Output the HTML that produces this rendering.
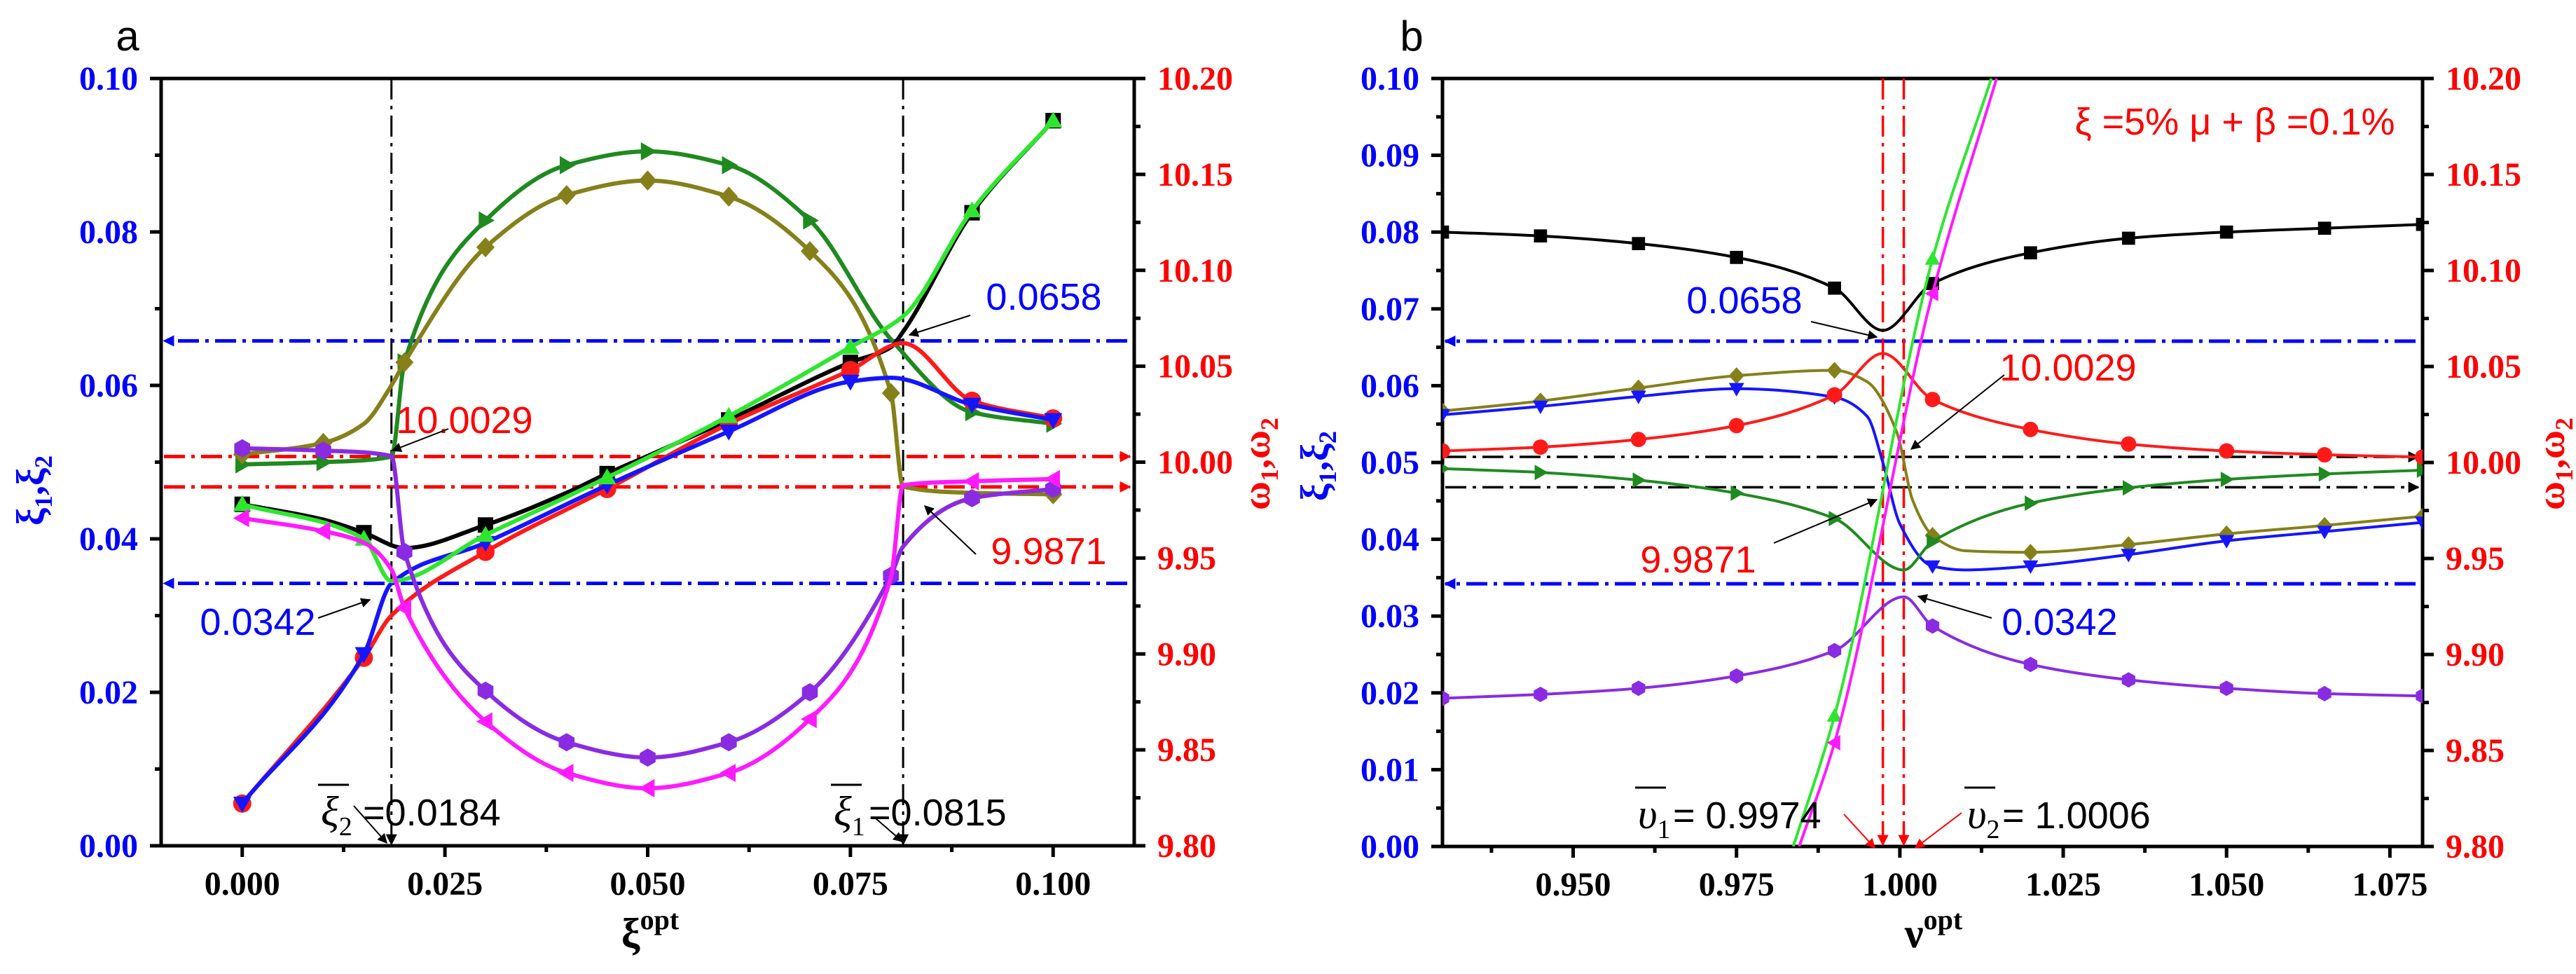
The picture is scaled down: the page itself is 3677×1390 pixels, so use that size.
<!DOCTYPE html>
<html><head><meta charset="utf-8">
<style>
html,body{margin:0;padding:0;background:#fff;}
svg{display:block;}
.tk{font-family:"Liberation Serif",serif;font-weight:bold;font-size:48px;}
.an{font-family:"Liberation Sans",sans-serif;font-size:54px;}
</style></head>
<body>
<svg id="chart" width="3677" height="1390" viewBox="0 0 3677 1390" xmlns="http://www.w3.org/2000/svg">
<defs>
<marker id="arKb" viewBox="0 0 10 10" refX="9" refY="5" markerWidth="22" markerHeight="16" orient="auto" markerUnits="userSpaceOnUse"><path d="M0,0 L10,5 L0,10 z" fill="#000"/></marker>
<marker id="arR" viewBox="0 0 10 10" refX="9" refY="5" markerWidth="22" markerHeight="16" orient="auto" markerUnits="userSpaceOnUse"><path d="M0,0 L10,5 L0,10 z" fill="#f00"/></marker>
<marker id="arB" viewBox="0 0 10 10" refX="9" refY="5" markerWidth="22" markerHeight="16" orient="auto" markerUnits="userSpaceOnUse"><path d="M0,0 L10,5 L0,10 z" fill="#00f"/></marker>
<marker id="arS" viewBox="0 0 10 10" refX="9" refY="5" markerWidth="18" markerHeight="14" orient="auto" markerUnits="userSpaceOnUse"><path d="M0,0 L10,5 L0,10 z" fill="#000"/></marker>
<marker id="arSR" viewBox="0 0 10 10" refX="9" refY="5" markerWidth="18" markerHeight="14" orient="auto" markerUnits="userSpaceOnUse"><path d="M0,0 L10,5 L0,10 z" fill="#f00"/></marker>
<clipPath id="clipA"><rect x="230" y="112" width="1389" height="1095"/></clipPath>
<clipPath id="clipB"><rect x="2059" y="112" width="1399" height="1096"/></clipPath>
</defs>
</svg>
<script>
// ---------- Panel a data (left-axis units) ----------
const aBlackX=[0,0.01,0.015,0.02,0.03,0.04,0.045,0.05,0.06,0.075,0.08,0.0815,0.09,0.1];
const aBlackY=[0.0445,0.0425,0.0408,0.0388,0.0418,0.046,0.0485,0.0508,0.0555,0.063,0.065,0.067,0.0825,0.0945];
const aBlackM=[0,0.015,0.03,0.045,0.06,0.075,0.09,0.1];
const aRedX=[0,0.015,0.0184,0.03,0.045,0.06,0.075,0.0815,0.09,0.1];
const aRedY=[0.0055,0.0245,0.030,0.0383,0.0465,0.055,0.062,0.0655,0.058,0.0557];
const aRedM=[0,0.015,0.03,0.045,0.06,0.075,0.09,0.1];
const aBlueX=[0,0.015,0.0184,0.03,0.045,0.06,0.075,0.08,0.09,0.1];
const aBlueY=[0.0055,0.025,0.0342,0.0395,0.047,0.054,0.0605,0.061,0.0575,0.0555];
const aBlueM=[0,0.015,0.03,0.045,0.06,0.075,0.09,0.1];
const aLimeX=[0,0.015,0.0184,0.03,0.045,0.06,0.075,0.0815,0.09,0.1];
const aLimeY=[0.0445,0.040,0.0345,0.0405,0.048,0.056,0.065,0.069,0.0828,0.0945];
const aLimeM=[0,0.015,0.03,0.045,0.06,0.075,0.09,0.1];
const aGreenX=[0,0.01,0.0184,0.02,0.03,0.04,0.05,0.06,0.07,0.08,0.09,0.1];
const aGreenY=[0.0497,0.0500,0.0507,0.063,0.0815,0.0887,0.0905,0.0887,0.0815,0.066,0.0565,0.055];
const aGreenM=[0,0.01,0.02,0.03,0.04,0.05,0.06,0.07,0.09,0.1];
const aOliveX=[0,0.01,0.015,0.0184,0.02,0.03,0.04,0.05,0.06,0.07,0.08,0.0815,0.09,0.1];
const aOliveY=[0.051,0.0525,0.055,0.060,0.063,0.078,0.0848,0.0867,0.0846,0.0775,0.059,0.0468,0.046,0.0458];
const aOliveM=[0,0.01,0.02,0.03,0.04,0.05,0.06,0.07,0.08,0.1];
const aPurpleX=[0,0.01,0.0184,0.02,0.03,0.04,0.05,0.06,0.07,0.08,0.0815,0.09,0.1];
const aPurpleY=[0.0518,0.0515,0.0508,0.0383,0.0202,0.0135,0.0115,0.0135,0.020,0.0352,0.039,0.0453,0.0465];
const aPurpleM=[0,0.01,0.02,0.03,0.04,0.05,0.06,0.07,0.08,0.09,0.1];
const aMagX=[0,0.01,0.015,0.0184,0.02,0.03,0.04,0.05,0.06,0.07,0.08,0.0815,0.09,0.1];
const aMagY=[0.0427,0.041,0.0395,0.036,0.031,0.0162,0.0095,0.0075,0.0095,0.0165,0.035,0.047,0.0475,0.0478];
const aMagM=[0,0.01,0.02,0.03,0.04,0.05,0.06,0.07,0.09,0.1];
const aVLines=[0.0184,0.0815];
const aHBlue=[0.0658,0.0342];
const aHOmega=[10.0029,9.9871];
// ---------- Panel b data ----------
const bBlackX=[0.93,0.945,0.96,0.975,0.99,0.9974,1.005,1.02,1.035,1.05,1.065,1.08];
const bBlackY=[0.080,0.0795,0.0785,0.0767,0.0727,0.0672,0.0733,0.0773,0.0792,0.080,0.0805,0.081];
const bOliveX=[0.93,0.945,0.96,0.975,0.99,0.995,0.9995,1.002,1.005,1.01,1.02,1.035,1.05,1.065,1.08];
const bOliveY=[0.0567,0.058,0.0597,0.0613,0.062,0.0605,0.054,0.045,0.0405,0.0385,0.0383,0.0393,0.0407,0.0418,0.043];
const bBlueX=[0.93,0.945,0.96,0.975,0.99,0.995,0.9974,1.0,1.005,1.01,1.02,1.035,1.05,1.065,1.08];
const bBlueY=[0.0562,0.0573,0.0586,0.0596,0.0585,0.056,0.050,0.042,0.0365,0.036,0.0365,0.038,0.0398,0.041,0.0422];
const bRedX=[0.93,0.945,0.96,0.975,0.99,0.9974,1.005,1.02,1.035,1.05,1.065,1.08];
const bRedY=[0.0515,0.052,0.053,0.0548,0.0588,0.0642,0.0582,0.0543,0.0524,0.0515,0.051,0.0507];
const bGreenX=[0.93,0.945,0.96,0.975,0.99,1.0006,1.005,1.02,1.035,1.05,1.065,1.08];
const bGreenY=[0.0492,0.0487,0.0477,0.046,0.0427,0.036,0.0397,0.0447,0.0467,0.0478,0.0485,0.049];
const bPurpleX=[0.93,0.945,0.96,0.975,0.99,1.0006,1.005,1.02,1.035,1.05,1.065,1.08];
const bPurpleY=[0.0193,0.0198,0.0206,0.0222,0.0255,0.0325,0.0287,0.0237,0.0217,0.0206,0.0199,0.0196];
const bLimeX=[0.9837,0.99,1.005,1.014];
const bLimeY=[0,0.017,0.0765,0.1];
const bMagX=[0.9846,0.99,1.005,1.0148];
const bMagY=[0,0.0135,0.072,0.1];
const bMarkX=[0.93,0.945,0.96,0.975,0.99,1.005,1.02,1.035,1.05,1.065,1.08];
const bSteepM=[0.99,1.005];
const bVLines=[0.9974,1.0006];
const bHBlue=[0.0658,0.0342];
const bHOmega=[10.0029,9.9871];

const NS='http://www.w3.org/2000/svg';
const svg=document.getElementById('chart');
function el(tag,attrs,parent){const e=document.createElementNS(NS,tag);for(const k in attrs)e.setAttribute(k,attrs[k]);(parent||svg).appendChild(e);return e;}

function makePanel(L,R,T,B,xmin,xmax){
  return {L,R,T,B,sx:v=>L+(v-xmin)/(xmax-xmin)*(R-L),sy:v=>B-(v/0.1)*(B-T),sw:w=>B-((w-9.8)/0.4)*(B-T)};
}
const PA=makePanel(230,1619,112,1207,-0.01,0.11);
const PB=makePanel(2059,3458,112,1208,0.93,1.08);

function monoPath(px,py){
  const n=px.length;const d=[],h=[],m=[];
  for(let i=0;i<n-1;i++){h.push(px[i+1]-px[i]);d.push((py[i+1]-py[i])/(px[i+1]-px[i]));}
  m[0]=d[0];m[n-1]=d[n-2];
  for(let i=1;i<n-1;i++){
    if(d[i-1]*d[i]<=0)m[i]=0;
    else{const h0=h[i-1],h1=h[i];m[i]=3*(h0+h1)/((2*h1+h0)/d[i-1]+(h1+2*h0)/d[i]);}
  }
  let s='M'+px[0].toFixed(1)+','+py[0].toFixed(1);
  for(let i=0;i<n-1;i++){const t=h[i]/3;
    s+=' C'+(px[i]+t).toFixed(1)+','+(py[i]+m[i]*t).toFixed(1)+' '+(px[i+1]-t).toFixed(1)+','+(py[i+1]-m[i+1]*t).toFixed(1)+' '+px[i+1].toFixed(1)+','+py[i+1].toFixed(1);}
  return s;
}
function marker(g,shape,x,y,r,col){
  let e;
  if(shape==='sq')e=el('rect',{x:x-r*0.85,y:y-r*0.85,width:r*1.7,height:r*1.7,fill:col},g);
  else if(shape==='ci')e=el('circle',{cx:x,cy:y,r:r,fill:col},g);
  else{
    let pts;
    if(shape==='dn')pts=[[-1,-0.75],[1,-0.75],[0,1]];
    else if(shape==='up')pts=[[-1,0.75],[1,0.75],[0,-1]];
    else if(shape==='rt')pts=[[-0.75,-1],[-0.75,1],[1,0]];
    else if(shape==='lt')pts=[[0.75,-1],[0.75,1],[-1,0]];
    else if(shape==='di')pts=[[0,-1.1],[1,0],[0,1.1],[-1,0]];
    else pts=[[0,-1],[0.87,-0.5],[0.87,0.5],[0,1],[-0.87,0.5],[-0.87,-0.5]];
    e=el('polygon',{points:pts.map(p=>(x+p[0]*r).toFixed(1)+','+(y+p[1]*r).toFixed(1)).join(' '),fill:col},g);
  }
  
  
}
function series(P,clip,xs,ys,ms,col,shape,name,lw,r){
  const g=el('g',{'clip-path':'url(#'+clip+')'});
  
  
  const p=el('path',{d:monoPath(xs.map(P.sx),ys.map(P.sy)),fill:'none',stroke:col,'stroke-width':lw,'stroke-linejoin':'round'},g);
  
  
  xs.forEach((x,i)=>{if(ms.some(m=>Math.abs(m-x)<1e-9))marker(g,shape,P.sx(x),P.sy(ys[i]),r,col);});
}
function txt(x,y,s,attrs,name){
  const t=el('text',Object.assign({x:x,y:y},attrs));t.textContent=s;
  
  
  return t;
}
function line(x1,y1,x2,y2,attrs,name){
  const l=el('line',Object.assign({x1,y1,x2,y2},attrs));
  
  
  return l;
}
const DD='30 9 5 9';

function axes(P,pfx,xticks,xminor,xfmt,ymaj,ymin,yfmt){
  xticks.forEach(v=>{line(P.sx(v),P.B,P.sx(v),P.B+16,{stroke:'#000','stroke-width':5},pfx+'x-tick');
    txt(P.sx(v),P.B+70,v.toFixed(3),{class:'tk','text-anchor':'middle',fill:'#000'},pfx+'x-tick-label');});
  xminor.forEach(v=>line(P.sx(v),P.B,P.sx(v),P.B+9,{stroke:'#000','stroke-width':5},pfx+'x-minor-tick'));
  ymaj.forEach(v=>{line(P.L-16,P.sy(v),P.L,P.sy(v),{stroke:'#000','stroke-width':5},pfx+'y-tick');
    txt(P.L-33,P.sy(v)+16,v.toFixed(yfmt),{class:'tk','text-anchor':'end',fill:'#0000ff'},pfx+'y-tick-label');});
  ymin.forEach(v=>line(P.L-9,P.sy(v),P.L,P.sy(v),{stroke:'#000','stroke-width':5},pfx+'y-minor-tick'));
  for(let k=0;k<=8;k++){const w=9.8+k*0.05;
    line(P.R,P.sw(w),P.R+16,P.sw(w),{stroke:'#000','stroke-width':5},pfx+'y2-tick');
    txt(P.R+33,P.sw(w)+16,w.toFixed(2),{class:'tk','text-anchor':'start',fill:'#ff0000'},pfx+'y2-tick-label');
    if(k<8)line(P.R,P.sw(w+0.025),P.R+9,P.sw(w+0.025),{stroke:'#000','stroke-width':5},pfx+'y2-minor-tick');}
  const fr=el('rect',{x:P.L,y:P.T,width:P.R-P.L,height:P.B-P.T,fill:'none',stroke:'#000','stroke-width':5});
  
  
}
axes(PA,'a-',[0,0.025,0.05,0.075,0.1],[0.0125,0.0375,0.0625,0.0875],3,[0,0.02,0.04,0.06,0.08,0.1],[0.01,0.03,0.05,0.07,0.09],2);
axes(PB,'b-',[0.95,0.975,1.0,1.025,1.05,1.075],[0.9375,0.9625,0.9875,1.0125,1.0375,1.0625],3,[0,0.01,0.02,0.03,0.04,0.05,0.06,0.07,0.08,0.09,0.1],[0.005,0.015,0.025,0.035,0.045,0.055,0.065,0.075,0.085,0.095],2);

aHBlue.forEach(v=>line(PA.R-10,PA.sy(v),PA.L+4,PA.sy(v),{stroke:'#0000ff','stroke-width':5,'stroke-dasharray':DD,'marker-end':'url(#arB)'},'a-ref-line-blue'));
aHOmega.forEach(v=>line(PA.L+4,PA.sw(v),PA.R-6,PA.sw(v),{stroke:'#ff0000','stroke-width':5,'stroke-dasharray':DD,'marker-end':'url(#arR)'},'a-ref-line-red'));
aVLines.forEach(v=>line(PA.sx(v),PA.T,PA.sx(v),PA.B-2,{stroke:'#000','stroke-width':3,'stroke-dasharray':DD,'marker-end':'url(#arKb)'},'a-ref-line-vertical'));

const LWA=6,RA=13;
series(PA,'clipA',aGreenX,aGreenY,aGreenM,'#1f8a1f','rt','a-series-darkgreen',LWA,RA);
series(PA,'clipA',aOliveX,aOliveY,aOliveM,'#858019','di','a-series-olive',LWA,RA);
series(PA,'clipA',aBlackX,aBlackY,aBlackM,'#000000','sq','a-series-black',LWA,RA);
series(PA,'clipA',aRedX,aRedY,aRedM,'#ff1a1a','ci','a-series-red',LWA,RA);
series(PA,'clipA',aBlueX,aBlueY,aBlueM,'#1515ff','dn','a-series-blue',LWA,RA);
series(PA,'clipA',aLimeX,aLimeY,aLimeM,'#2fe62f','up','a-series-lime',LWA,RA);
series(PA,'clipA',aPurpleX,aPurpleY,aPurpleM,'#8a2be2','hx','a-series-purple',LWA,RA);
series(PA,'clipA',aMagX,aMagY,aMagM,'#ff1aff','lt','a-series-magenta',LWA,RA);

bHBlue.forEach(v=>line(PB.R-10,PB.sy(v),PB.L+4,PB.sy(v),{stroke:'#0000ff','stroke-width':5,'stroke-dasharray':DD,'marker-end':'url(#arB)'},'b-ref-line-blue'));
bHOmega.forEach(v=>line(PB.L+4,PB.sw(v),PB.R-6,PB.sw(v),{stroke:'#000','stroke-width':3.5,'stroke-dasharray':DD,'marker-end':'url(#arKb)'},'b-ref-line-black'));
bVLines.forEach(v=>line(PB.sx(v),PB.T,PB.sx(v),PB.B-2,{stroke:'#ff0000','stroke-width':3.5,'stroke-dasharray':DD,'marker-end':'url(#arR)'},'b-ref-line-vertical'));

const LWB=4,RB=11;
series(PB,'clipB',bBlackX,bBlackY,bMarkX,'#000000','sq','b-series-black',LWB,RB);
series(PB,'clipB',bOliveX,bOliveY,bMarkX,'#858019','di','b-series-olive',LWB,RB);
series(PB,'clipB',bBlueX,bBlueY,bMarkX,'#1515ff','dn','b-series-blue',LWB,RB);
series(PB,'clipB',bRedX,bRedY,bMarkX,'#ff1a1a','ci','b-series-red',LWB,RB);
series(PB,'clipB',bGreenX,bGreenY,bMarkX,'#1f8a1f','rt','b-series-darkgreen',LWB,RB);
series(PB,'clipB',bPurpleX,bPurpleY,bMarkX,'#8a2be2','hx','b-series-purple',LWB,RB);
series(PB,'clipB',bLimeX,bLimeY,bSteepM,'#2fe62f','up','b-series-lime',LWB,RB);
series(PB,'clipB',bMagX,bMagY,bSteepM,'#ff1aff','lt','b-series-magenta',LWB,RB);

txt(182,72,'a',{'font-family':'Liberation Sans, sans-serif','font-size':60,'text-anchor':'middle'},'panel-label-a');
txt(2015,72,'b',{'font-family':'Liberation Sans, sans-serif','font-size':60,'text-anchor':'middle'},'panel-label-b');
function xTitle(cx,sym,name){
  const t=el('text',{x:cx,y:1352,'text-anchor':'middle','font-family':'Liberation Serif, serif','font-size':60,'font-weight':'bold',fill:'#000'});
  
  const a=el('tspan',{},t);a.textContent=sym;
  const b=el('tspan',{dy:-26,'font-size':40},t);b.textContent='opt';
}
xTitle(928,'ξ','a-x-axis-title');
xTitle(2760,'ν','b-x-axis-title');
function yTitle(x,y,s1,col,name){
  const t=el('text',{x:0,y:0,transform:'translate('+x+','+y+') rotate(-90)','text-anchor':'middle','font-family':'Liberation Serif, serif','font-size':56,'font-weight':'bold',fill:col});
  
  const p=[[s1,0,56],['1',12,36],[','+s1,-12,56],['2',12,36]];
  p.forEach(q=>{const s=el('tspan',{dy:q[1],'font-size':q[2]},t);s.textContent=q[0];});
}
yTitle(62,700,'ξ','#0000ff','a-y-axis-title');
yTitle(1812,662,'ω','#ff0000','a-y2-axis-title');
yTitle(1895,665,'ξ','#0000ff','b-y-axis-title');
yTitle(3660,662,'ω','#ff0000','b-y2-axis-title');

const AS={class:'an'};
txt(663,618,'10.0029',Object.assign({fill:'#ff0000','text-anchor':'middle'},AS),'a-annot-10.0029');
line(640,612,560,643,{stroke:'#000','stroke-width':2,'marker-end':'url(#arS)'},'a-annot-arrow');
txt(1490,442,'0.0658',Object.assign({fill:'#0000ff','text-anchor':'middle'},AS),'a-annot-0.0658');
line(1385,450,1298,478,{stroke:'#000','stroke-width':2,'marker-end':'url(#arS)'},'a-annot-arrow');
txt(1497,805,'9.9871',Object.assign({fill:'#ff0000','text-anchor':'middle'},AS),'a-annot-9.9871');
line(1393,791,1320,722,{stroke:'#000','stroke-width':2,'marker-end':'url(#arS)'},'a-annot-arrow');
txt(368,906,'0.0342',Object.assign({fill:'#0000ff','text-anchor':'middle'},AS),'a-annot-0.0342');
line(454,882,528,856,{stroke:'#000','stroke-width':2,'marker-end':'url(#arS)'},'a-annot-arrow');
function barSym(x,y,sym,sub,col,name,val,vx){
  const t=el('text',{x:x,y:y,'font-family':'Liberation Serif, serif','font-style':'italic','font-size':60,fill:'#000'});
  
  const a=el('tspan',{},t);a.textContent=sym;
  const b=el('tspan',{dy:14,'font-size':38,'font-style':'normal'},t);b.textContent=sub;
  line(x-4,y-58,x+40,y-58,{stroke:'#000','stroke-width':3},name+'-overbar');
  txt(vx,y,val,{class:'an',fill:'#000','font-size':58},name+'-value');
}
barSym(458,1178,'ξ','2','#000','a-annot-xi2','=0.0184',518);
line(505,1150,552,1203,{stroke:'#000','stroke-width':2,'marker-end':'url(#arS)'},'a-annot-arrow');
barSym(1190,1178,'ξ','1','#000','a-annot-xi1','=0.0815',1240);
line(1250,1168,1288,1201,{stroke:'#000','stroke-width':2,'marker-end':'url(#arS)'},'a-annot-arrow');

txt(3190,192,'ξ =5%  μ + β =0.1%',{class:'an',fill:'#ff0000','font-size':48,'text-anchor':'middle'},'b-annot-params');
txt(2490,447,'0.0658',Object.assign({fill:'#0000ff','text-anchor':'middle'},AS),'b-annot-0.0658');
line(2585,459,2679,481,{stroke:'#000','stroke-width':2,'marker-end':'url(#arS)'},'b-annot-arrow');
txt(2952,543,'10.0029',Object.assign({fill:'#ff0000','text-anchor':'middle'},AS),'b-annot-10.0029');
line(2861,535,2728,641,{stroke:'#000','stroke-width':2,'marker-end':'url(#arS)'},'b-annot-arrow');
txt(2424,817,'9.9871',Object.assign({fill:'#ff0000','text-anchor':'middle'},AS),'b-annot-9.9871');
line(2532,775,2679,713,{stroke:'#000','stroke-width':2,'marker-end':'url(#arS)'},'b-annot-arrow');
txt(2940,906,'0.0342',Object.assign({fill:'#0000ff','text-anchor':'middle'},AS),'b-annot-0.0342');
line(2843,882,2738,851,{stroke:'#000','stroke-width':2,'marker-end':'url(#arS)'},'b-annot-arrow');
barSym(2338,1182,'υ','1','#000','b-annot-nu1','= 0.9974',2388);
line(2632,1162,2676,1210,{stroke:'#ff0000','stroke-width':2,'marker-end':'url(#arSR)'},'b-annot-arrow');
barSym(2808,1182,'υ','2','#000','b-annot-nu2','= 1.0006',2858);
line(2800,1160,2734,1210,{stroke:'#ff0000','stroke-width':2,'marker-end':'url(#arSR)'},'b-annot-arrow');
</script>
</body></html>
